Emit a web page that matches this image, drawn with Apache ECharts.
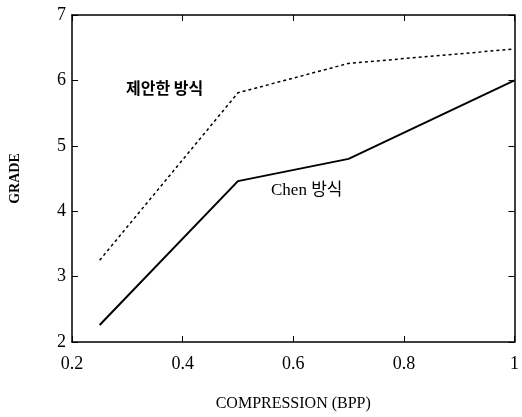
<!DOCTYPE html>
<html><head><meta charset="utf-8">
<script src="https://cdn.jsdelivr.net/npm/echarts@6/dist/echarts.min.js"></script>
<style>html,body{margin:0;padding:0;background:#fff}#c{width:522px;height:417px}</style>
</head><body><div id="c"></div>
<script>
const xValues = [0.25, 0.5, 0.7, 1.0];
const proposed = [3.25, 5.81, 6.26, 6.48];
const chen = [2.26, 4.46, 4.80, 6.0];
const proposedLabel = '제안한 방식';
const chenLabel = 'Chen 방식';
const xTitle = 'COMPRESSION (BPP)';
const yTitle = 'GRADE';

const chart = echarts.init(document.getElementById('c'));
const serif = '"Liberation Serif", "DejaVu Serif", serif';
const pair = (ys) => xValues.map((x, i) => [x, ys[i]]);
const mirrorX = {type:'value', min:0.2, max:1, interval:0.2, position:'top',
  axisLine:{show:true, lineStyle:{color:'#000', width:1.5}},
  axisTick:{show:true, inside:true, length:6, lineStyle:{color:'#000'}},
  axisLabel:{show:false}, splitLine:{show:false}};
const mirrorY = {type:'value', min:2, max:7, interval:1, position:'right',
  axisLine:{show:true, lineStyle:{color:'#000', width:1.5}},
  axisTick:{show:true, inside:true, length:6, lineStyle:{color:'#000'}},
  axisLabel:{show:false}, splitLine:{show:false}};
chart.setOption({
  animation:false,
  backgroundColor:'#fff',
  grid:{left:71, right:3, top:15, bottom:72},
  xAxis:[{type:'value', min:0.2, max:1, interval:0.2, position:'bottom',
    name:xTitle, nameLocation:'middle', nameGap:54,
    nameTextStyle:{fontFamily:serif, fontSize:16, color:'#000'},
    axisLine:{show:true, lineStyle:{color:'#000', width:1.5}},
    axisTick:{show:true, inside:true, length:6, lineStyle:{color:'#000'}},
    axisLabel:{fontFamily:serif, fontSize:18, color:'#000', margin:13,
      formatter:(v)=> v===1 ? '1' : v.toFixed(1)},
    splitLine:{show:false}}, mirrorX],
  yAxis:[{type:'value', min:2, max:7, interval:1, position:'left',
    name:yTitle, nameLocation:'middle', nameGap:50, nameRotate:90,
    nameTextStyle:{fontFamily:serif, fontSize:14, fontWeight:'bold', color:'#000'},
    axisLine:{show:true, lineStyle:{color:'#000', width:1.5}},
    axisTick:{show:true, inside:true, length:6, lineStyle:{color:'#000'}},
    axisLabel:{fontFamily:serif, fontSize:18, color:'#000', margin:6},
    splitLine:{show:false}}, mirrorY],
  series:[
    {type:'line', name:proposedLabel, data:pair(proposed), symbol:'none',
      lineStyle:{color:'#000', width:1.5, type:[3,3]}},
    {type:'line', name:chenLabel, data:pair(chen), symbol:'none',
      lineStyle:{color:'#000', width:2}}
  ],
  graphic:[
    {type:'text', left:126, top:80, style:{text:proposedLabel, font:'bold 16px "Noto Sans CJK KR"', fill:'#000'}},
    {type:'text', left:271, top:182, style:{text:chenLabel, font:'17px "Liberation Serif", "Noto Sans CJK KR"', fill:'#000'}}
  ]
});
</script></body></html>
